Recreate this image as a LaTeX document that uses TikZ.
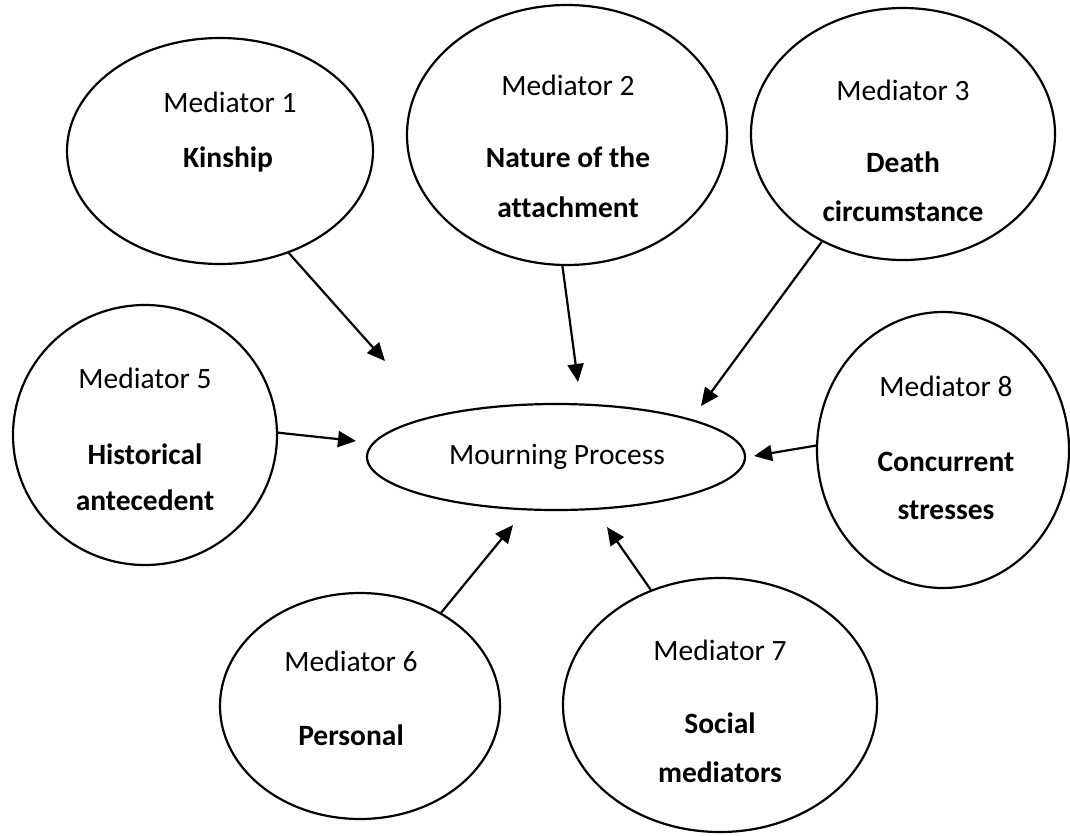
\documentclass[tikz,border=0pt]{standalone}
\usepackage{fontspec}
\setmainfont{Carlito}[Ligatures=NoCommon]
\usetikzlibrary{arrows.meta,shapes.geometric}
\begin{document}
\begin{tikzpicture}[x=1pt,y=-1pt,
  bubble/.style={draw,line width=2.2pt,ellipse,inner sep=0pt},
  lbl/.style={font=\fontsize{29.5}{34}\selectfont,inner sep=0pt,anchor=base},
  bold/.style={font=\fontsize{29.5}{34}\selectfont\bfseries,inner sep=0pt,anchor=base},
  link/.style={line width=2.2pt,-{Triangle[length=18pt,width=16pt]}}]
\useasboundingbox (0,0) rectangle (1070,835);

% bubbles
\node[bubble,minimum width=306pt,minimum height=226pt] (m1) at (220,151) {};
\node[bubble,minimum width=320pt,minimum height=260pt] (m2) at (567,135) {};
\node[bubble,minimum width=304pt,minimum height=252pt] (m3) at (903,134) {};
\node[bubble,minimum width=264pt,minimum height=260pt] (m5) at (145,435) {};
\node[bubble,minimum width=378pt,minimum height=106pt] (mp) at (556,457) {};
\node[bubble,minimum width=252pt,minimum height=276pt] (m8) at (943,450) {};
\node[bubble,minimum width=280pt,minimum height=226pt] (m6) at (360,706) {};
\node[bubble,minimum width=314pt,minimum height=254pt] (m7) at (720,705) {};

% texts
\node[lbl] (t1a) at (230,112) {Mediator 1};
\node[bold] (t1b) at (228,167) {Kinship};
\node[lbl] (t2a) at (568,95) {Mediator 2};
\node[bold] (t2b) at (568,167) {Nature of the};
\node[bold] (t2c) at (568,217) {attachment};
\node[lbl] (t3a) at (903,100) {Mediator 3};
\node[bold] (t3b) at (903,172) {Death};
\node[bold] (t3c) at (903,221) {circumstance};
\node[lbl] (t5a) at (145,388) {Mediator 5};
\node[bold] (t5b) at (145,464) {Historical};
\node[bold] (t5c) at (145,510) {antecedent};
\node[lbl] (tp) at (557,464) {Mourning Process};
\node[lbl] (t8a) at (946,396) {Mediator 8};
\node[bold] (t8b) at (946,471) {Concurrent};
\node[bold] (t8c) at (946,519) {stresses};
\node[lbl] (t6a) at (351,671) {Mediator 6};
\node[bold] (t6b) at (351,745) {Personal};
\node[lbl] (t7a) at (720,660) {Mediator 7};
\node[bold] (t7b) at (720,733) {Social};
\node[bold] (t7c) at (720,782) {mediators};

% arrow tips stop short of the central ellipse
\coordinate (e1) at (385,361);
\coordinate (e2) at (578,382);
\coordinate (e3) at (701,406);
\coordinate (e5) at (356,441);
\coordinate (e8) at (754,456);
\coordinate (e6) at (513,525);
\coordinate (e7) at (607,527);

\draw[link] (m1.-56) -- (e1);
\draw[link] (m2.-92) -- (e2);
\draw[link] (m3.-127.5) -- (e3);
\draw[link] (m5.1) -- (e5);
\draw[link] (m8.178.5) -- (e8);
\draw[link] (m6.49) -- (e6);
\draw[link] (m7.121) -- (e7);
\end{tikzpicture}
\end{document}
